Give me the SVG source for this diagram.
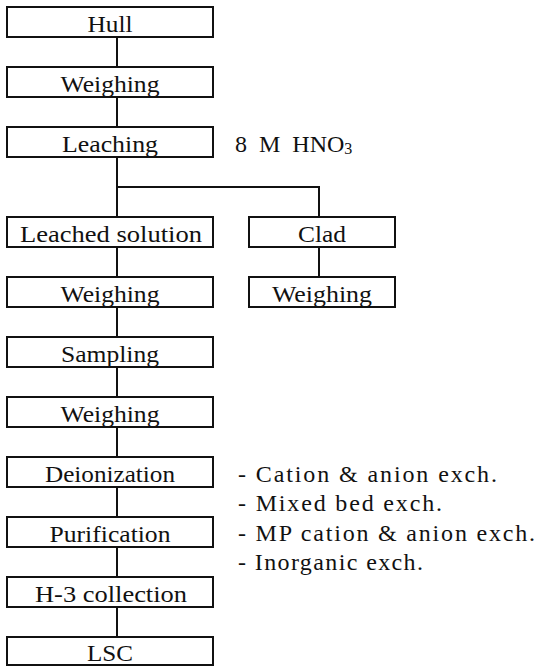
<svg xmlns="http://www.w3.org/2000/svg" width="539" height="667" viewBox="0 0 539 667">
<style>
.box{fill:#fff;stroke:#111;stroke-width:2}
.conn{stroke:#111;stroke-width:2;fill:none}
.t{font-family:"Liberation Serif","DejaVu Serif","Times New Roman",serif;font-size:24px;fill:#111}
.c{text-anchor:middle}
</style>
<rect width="539" height="667" fill="#fff"/>
<g id="connectors">
<path class="conn" d="M117 37V67M117 97V127M117 157V217M117 187H319V217M319 247V277M117 247V277M117 307V337M117 367V397M117 427V457M117 487V517M117 547V577M117 607V637"/>
</g>
<g id="hull"><rect class="box" x="7" y="7" width="206" height="30"/><text class="t c" x="110" y="32" textLength="45" lengthAdjust="spacingAndGlyphs">Hull</text></g>
<g id="weighing1"><rect class="box" x="7" y="67" width="206" height="30"/><text class="t c" x="110" y="92" textLength="99" lengthAdjust="spacingAndGlyphs">Weighing</text></g>
<g id="leaching"><rect class="box" x="7" y="127" width="206" height="30"/><text class="t c" x="110" y="152" textLength="96" lengthAdjust="spacingAndGlyphs">Leaching</text></g>
<g id="leached-solution"><rect class="box" x="7" y="217" width="206" height="30"/><text class="t c" x="111" y="242" textLength="182" lengthAdjust="spacingAndGlyphs">Leached solution</text></g>
<g id="clad"><rect class="box" x="249" y="217" width="146" height="30"/><text class="t c" x="322" y="242" textLength="48" lengthAdjust="spacingAndGlyphs">Clad</text></g>
<g id="weighing2"><rect class="box" x="7" y="277" width="206" height="30"/><text class="t c" x="110" y="302" textLength="99" lengthAdjust="spacingAndGlyphs">Weighing</text></g>
<g id="clad-weighing"><rect class="box" x="249" y="277" width="146" height="30"/><text class="t c" x="322" y="302" textLength="100" lengthAdjust="spacingAndGlyphs">Weighing</text></g>
<g id="sampling"><rect class="box" x="7" y="337" width="206" height="30"/><text class="t c" x="110" y="362" textLength="98" lengthAdjust="spacingAndGlyphs">Sampling</text></g>
<g id="weighing3"><rect class="box" x="7" y="397" width="206" height="30"/><text class="t c" x="110" y="422" textLength="99" lengthAdjust="spacingAndGlyphs">Weighing</text></g>
<g id="deionization"><rect class="box" x="7" y="457" width="206" height="30"/><text class="t c" x="110" y="482" textLength="130" lengthAdjust="spacingAndGlyphs">Deionization</text></g>
<g id="purification"><rect class="box" x="7" y="517" width="206" height="30"/><text class="t c" x="110" y="542" textLength="121" lengthAdjust="spacingAndGlyphs">Purification</text></g>
<g id="h3-collection"><rect class="box" x="7" y="577" width="206" height="30"/><text class="t c" x="111" y="602" textLength="152" lengthAdjust="spacingAndGlyphs">H-3 collection</text></g>
<g id="lsc"><rect class="box" x="7" y="637" width="206" height="28"/><text class="t c" x="110" y="661" textLength="46" lengthAdjust="spacingAndGlyphs">LSC</text></g>
<g id="hno3"><text class="t" x="235" y="152" word-spacing="6">8 M HNO<tspan font-size="16" dy="2">3</tspan></text></g>
<g id="exchange-notes">
<text class="t" x="238" y="482" textLength="259" lengthAdjust="spacing">- Cation &amp; anion exch.</text>
<text class="t" x="238" y="511" textLength="204" lengthAdjust="spacing">- Mixed bed exch.</text>
<text class="t" x="238" y="541" textLength="297" lengthAdjust="spacing">- MP cation &amp; anion exch.</text>
<text class="t" x="238" y="570" textLength="185" lengthAdjust="spacing">- Inorganic exch.</text>
</g>
</svg>
